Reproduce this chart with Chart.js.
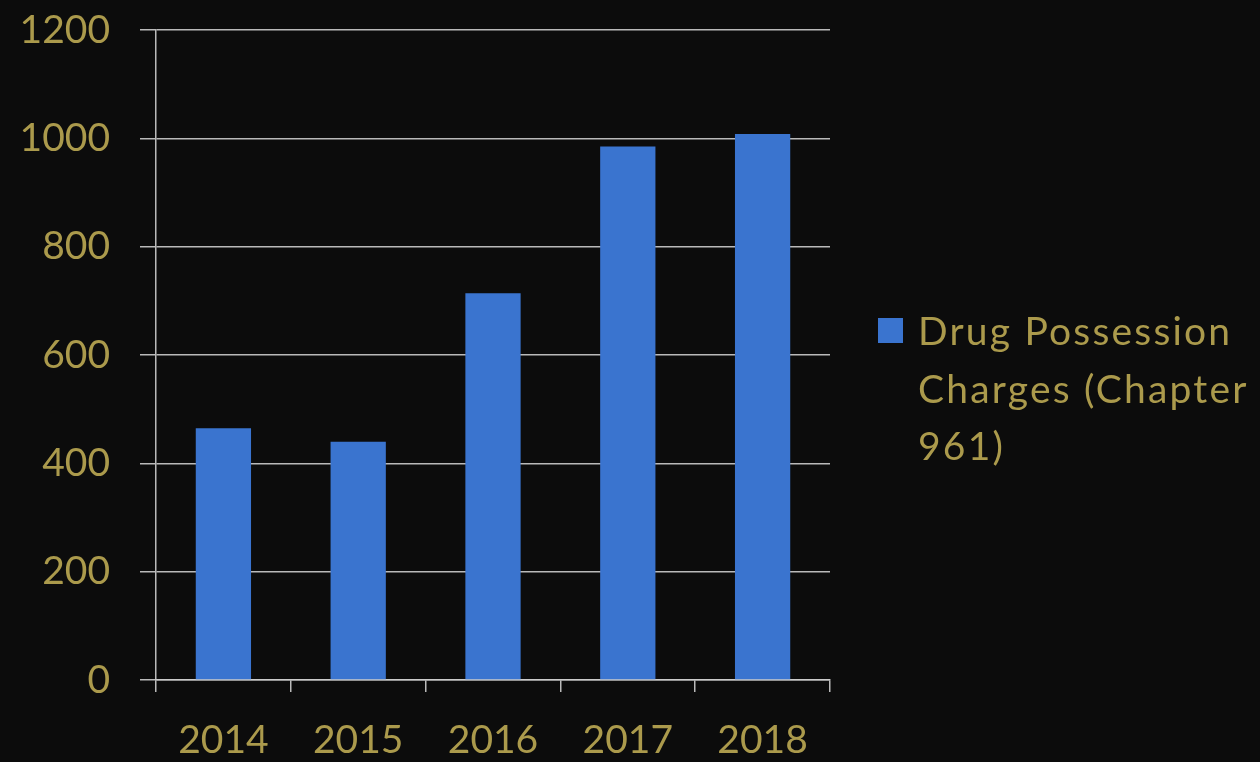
<!DOCTYPE html>
<html>
<head>
<meta charset="utf-8">
<script src="https://cdn.jsdelivr.net/npm/chart.js@4"></script>
<style>
	html, body { margin: 0; padding: 0; background: #0c0c0c; }
	#wrap { position: relative; width: 1260px; height: 762px; }
	#legend {
		position: absolute; left: 878px; top: 302px;
		font-family: Lato, sans-serif; font-size: 39px; line-height: 57.5px;
		letter-spacing: 2.2px; color: #ab9a4c;
	}
	#legend .box {
		position: absolute; left: 0; top: 16px; width: 25px; height: 25px;
	}
	#legend .text { margin-left: 40px; white-space: pre; }
</style>
</head>
<body>
<div id="wrap">
	<canvas id="chart" width="1260" height="762"></canvas>
	<div id="legend"></div>
</div>
<script>
const years = ['2014', '2015', '2016', '2017', '2018'];
const charges = [465, 440, 714, 985, 1008];
const seriesLabel = ['Drug Possession', 'Charges (Chapter', '961)'];
const yTicks = [0, 200, 400, 600, 800, 1000, 1200];

const gold = '#ab9a4c';
const blue = '#3a74cf';
const gridColor = 'rgba(205,205,205,0.9)';

const ctx = document.getElementById('chart').getContext('2d');
const chart = new Chart(ctx, {
	type: 'bar',
	data: {
		labels: years,
		datasets: [{
			label: seriesLabel.join(' '),
			data: charges,
			backgroundColor: blue,
			categoryPercentage: 1,
			barPercentage: 0.41
		}]
	},
	options: {
		responsive: false,
		animation: false,
		layout: {padding: {top: 30, right: 430, left: 0, bottom: 0}},
		plugins: {legend: {display: false}, tooltip: {enabled: false}},
		scales: {
			x: {
				grid: {drawOnChartArea: false, color: gridColor, tickLength: 12, lineWidth: 1.5},
				border: {color: gridColor, width: 1.5},
				ticks: {color: gold, font: {family: 'Lato', size: 39}, padding: 25, maxRotation: 0},
				afterFit: function(scale) { scale.height = 82; }
			},
			y: {
				min: 0,
				max: 1200,
				afterBuildTicks: function(scale) {
					scale.ticks = yTicks.map(function(v) { return {value: v}; });
				},
				grid: {color: gridColor, tickLength: 16, lineWidth: 1.5},
				border: {color: gridColor, width: 1.5},
				ticks: {
					color: gold, font: {family: 'Lato', size: 39}, padding: 30,
					callback: function(v) { return String(v); }
				},
				afterFit: function(scale) {
					scale.width = 156;
					// tick padding would otherwise push the plot top down
					scale.paddingTop = 0;
					scale.paddingBottom = 0;
				}
			}
		}
	}
});

// legend drawn as html so the long label can wrap like the original
const legend = document.getElementById('legend');
chart.data.datasets.forEach(function(ds) {
	const box = document.createElement('div');
	box.className = 'box';
	box.style.background = ds.backgroundColor;
	const text = document.createElement('div');
	text.className = 'text';
	text.textContent = seriesLabel.join('\n');
	legend.appendChild(box);
	legend.appendChild(text);
});
</script>
</body>
</html>
